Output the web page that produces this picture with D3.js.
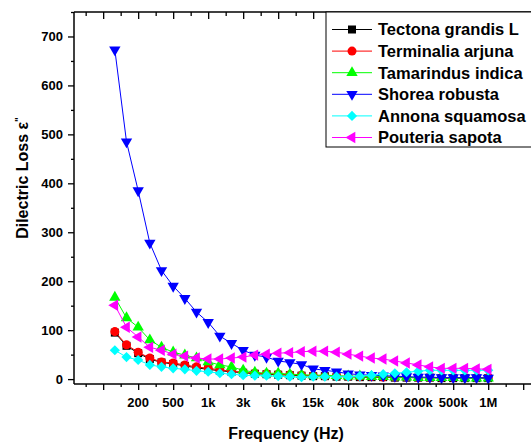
<!DOCTYPE html>
<html>
<head>
<meta charset="utf-8">
<script src="https://d3js.org/d3.v7.min.js"></script>
<style>
  body { margin: 0; background: #fff; }
  text { font-family: "Liberation Sans", Arial, sans-serif; font-weight: bold; }
</style>
</head>
<body>
<div id="chart"></div>
<script>
// Tick labels on the frequency axis (one label every third point)
var tickLabels = ["200", "500", "1k", "3k", "6k", "15k", "40k", "80k", "200k", "500k", "1M"];
var tickIndex  = [2, 5, 8, 11, 14, 17, 20, 23, 26, 29, 32];

// Dielectric loss values, one per measured frequency (33 points)
var tectona    = [95, 68, 53, 41, 34, 31, 27, 23, 20, 17, 15, 13, 11, 10, 9, 8, 7, 6, 6, 5, 5, 4, 4, 4, 3, 3, 3, 3, 2, 2, 2, 2, 2];
var terminalia = [97, 70, 55, 43, 35, 33, 29, 25, 22, 19, 16, 14, 12, 11, 10, 9, 8, 7, 6, 6, 5, 5, 5, 4, 4, 4, 3, 3, 3, 3, 3, 3, 3];
var tamarindus = [167, 125, 106, 80, 65, 55, 49, 43, 35, 29, 25, 18, 14, 12, 12, 10, 9, 8, 8, 7, 6, 6, 5, 5, 4, 4, 3, 3, 3, 3, 2, 2, 2];
var shorea     = [673, 485, 385, 278, 222, 190, 165, 137, 116, 88, 73, 59, 49, 45, 37, 34, 30, 21, 18, 15, 11, 9, 8, 7, 6, 5, 4, 4, 3, 3, 3, 3, 2];
var annona     = [59, 45, 39, 29, 25, 22, 20, 17, 15, 12, 10, 8, 7, 7, 6, 5, 4, 5, 5, 5, 5, 6, 8, 10, 12, 14, 16, 18, 18, 18, 18, 18, 18];
var pouteria   = [151, 106, 86, 65, 59, 51, 47, 43, 41, 41, 43, 45, 49, 51, 53, 54, 56, 57, 57, 55, 51, 47, 43, 41, 37, 33, 29, 25, 22, 22, 22, 21, 20];

var names = ["Tectona grandis L", "Terminalia arjuna", "Tamarindus indica", "Shorea robusta", "Annona squamosa", "Pouteria sapota"];

var series = [
  {name: names[0], values: tectona,    color: "#000000", shape: "square"},
  {name: names[1], values: terminalia, color: "#ff0000", shape: "circle"},
  {name: names[2], values: tamarindus, color: "#00ff00", shape: "up"},
  {name: names[3], values: shorea,     color: "#0000ff", shape: "down"},
  {name: names[4], values: annona,     color: "#00ffff", shape: "diamond"},
  {name: names[5], values: pouteria,   color: "#ff00ff", shape: "left"}
];

var width = 531, height = 445;

var svg = d3.select("#chart")
  .append("svg")
    .attr("width", width)
    .attr("height", height);

// Scales: points are evenly spaced by index
var x = d3.scaleLinear().domain([-3.5, 36.5]).range([74, 540.7]);
var y = d3.scaleLinear().domain([-10, 750]).range([384, 12]);

// Marker shapes
var symbols = {
  square:  {type: d3.symbolSquare, size: 64, rotate: 0},
  circle:  {type: d3.symbolCircle, size: 64, rotate: 0},
  up:      {type: d3.symbolTriangle, size: 56, rotate: 0},
  down:    {type: d3.symbolTriangle, size: 56, rotate: 180},
  left:    {type: d3.symbolTriangle, size: 56, rotate: -90},
  diamond: {type: d3.symbolSquare, size: 52, rotate: 45}
};

function symbolPath(shape) {
  return d3.symbol().type(symbols[shape].type).size(symbols[shape].size)();
}

// Series lines and markers
var line = d3.line()
  .x(function(d, i) { return x(i); })
  .y(function(d) { return y(d); });

series.forEach(function(s) {
  var g = svg.append("g");
  g.append("path")
    .datum(s.values)
    .attr("fill", "none")
    .attr("stroke", s.color)
    .attr("stroke-width", 1)
    .attr("d", line);
  var rot = symbols[s.shape].rotate;
  g.selectAll("path.pt")
    .data(s.values)
    .enter().append("path")
      .attr("class", "pt")
      .attr("d", symbolPath(s.shape))
      .attr("fill", s.color)
      .attr("transform", function(d, i) {
        return "translate(" + x(i) + "," + y(d) + ") rotate(" + rot + ")";
      });
});

// Axis tick positions
var majorX = d3.range(-1, 36, 3);
var minorX = d3.range(-2.5, 37, 3);

// Bottom axis (outward ticks) with labels
var bottomAxis = svg.append("g")
  .attr("transform", "translate(0," + y(-10) + ")");
bottomAxis.call(d3.axisBottom(x).tickValues(minorX).tickSize(3).tickFormat(""));
bottomAxis.append("g").call(d3.axisBottom(x).tickValues(majorX).tickSize(6).tickFormat(""));
bottomAxis.selectAll(".domain").remove();
bottomAxis.selectAll("line").attr("stroke", "#000").attr("stroke-width", 1.3);

svg.selectAll("text.xlab")
  .data(tickLabels)
  .enter().append("text")
    .attr("class", "xlab")
    .attr("x", function(d, i) { return x(tickIndex[i]); })
    .attr("y", 407)
    .attr("text-anchor", "middle")
    .style("font-size", "13px")
    .text(function(d) { return d; });

// Top axis (inward ticks)
var topAxis = svg.append("g")
  .attr("transform", "translate(0," + y(750) + ")");
topAxis.call(d3.axisBottom(x).tickValues(minorX).tickSize(4).tickFormat(""));
topAxis.append("g").call(d3.axisBottom(x).tickValues(majorX).tickSize(7).tickFormat(""));
topAxis.selectAll(".domain").remove();
topAxis.selectAll("line").attr("stroke", "#000").attr("stroke-width", 1.3);

// Left axis
var leftAxis = svg.append("g")
  .attr("transform", "translate(" + x(-3.5) + ",0)");
leftAxis.call(d3.axisLeft(y).tickValues(d3.range(50, 751, 100)).tickSize(3).tickFormat(""));
leftAxis.append("g").call(d3.axisLeft(y).tickValues(d3.range(0, 701, 100)).tickSize(6).tickFormat(""));
leftAxis.selectAll(".domain").remove();
leftAxis.selectAll("line").attr("stroke", "#000").attr("stroke-width", 1.3);

svg.selectAll("text.ylab")
  .data(d3.range(0, 701, 100))
  .enter().append("text")
    .attr("class", "ylab")
    .attr("x", 63)
    .attr("y", function(d) { return y(d); })
    .attr("dy", "0.35em")
    .attr("text-anchor", "end")
    .style("font-size", "13px")
    .text(function(d) { return d; });

// Frame lines
svg.append("line")
  .attr("x1", x(-3.5)).attr("x2", width)
  .attr("y1", y(-10)).attr("y2", y(-10))
  .attr("stroke", "#000").attr("stroke-width", 1.5);
svg.append("line")
  .attr("x1", x(-3.5)).attr("x2", width)
  .attr("y1", y(750)).attr("y2", y(750))
  .attr("stroke", "#000").attr("stroke-width", 1.5);
svg.append("line")
  .attr("x1", x(-3.5)).attr("x2", x(-3.5))
  .attr("y1", y(750)).attr("y2", y(-10))
  .attr("stroke", "#000").attr("stroke-width", 1.5);

// Axis titles
svg.append("text")
  .attr("x", 286)
  .attr("y", 439)
  .attr("text-anchor", "middle")
  .style("font-size", "16px")
  .text("Frequency (Hz)");

var ytitle = svg.append("text")
  .attr("transform", "translate(28,178) rotate(-90)")
  .attr("text-anchor", "middle")
  .style("font-size", "16px");
ytitle.append("tspan").text("Dilectric Loss \u03b5");
ytitle.append("tspan").attr("dy", "-0.5em").style("font-size", "10px").text("\"");

// Legend
var legend = svg.append("g");
legend.append("rect")
  .attr("x", 326).attr("y", 12)
  .attr("width", 230).attr("height", 135)
  .attr("fill", "#fff")
  .attr("stroke", "#000").attr("stroke-width", 1);

series.forEach(function(s, i) {
  var cy = 29.5 + i * 21.6;
  legend.append("line")
    .attr("x1", 332).attr("x2", 372)
    .attr("y1", cy).attr("y2", cy)
    .attr("stroke", s.color).attr("stroke-width", 1);
  legend.append("path")
    .attr("d", symbolPath(s.shape))
    .attr("fill", s.color)
    .attr("transform", "translate(352," + cy + ") rotate(" + symbols[s.shape].rotate + ")");
  legend.append("text")
    .attr("x", 378)
    .attr("y", cy)
    .attr("dy", "0.36em")
    .style("font-size", "16.5px")
    .text(s.name);
});
</script>
</body>
</html>
